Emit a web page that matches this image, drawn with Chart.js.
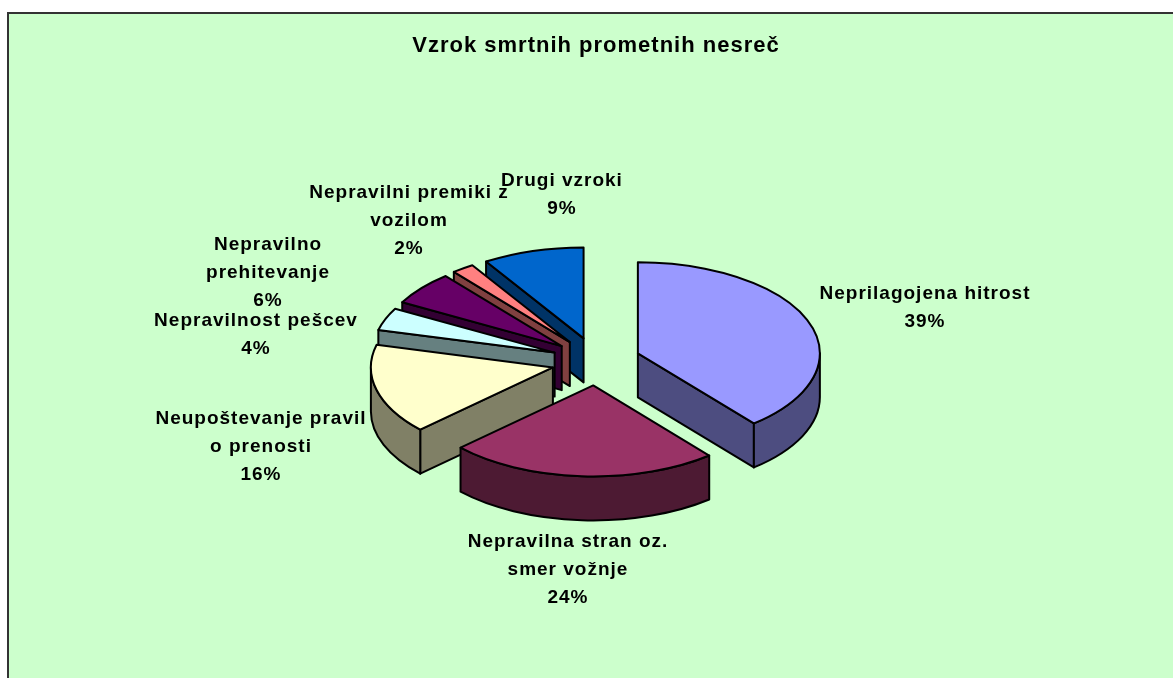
<!DOCTYPE html>
<html>
<head>
<meta charset="utf-8">
<style>html,body{margin:0;padding:0;background:#fff}canvas{display:block}</style>
<script src="https://cdn.jsdelivr.net/npm/chart.js@4"></script>
</head>
<body>
<canvas id="c" width="1173" height="678"></canvas>
<script>
const chartTitle = 'Vzrok smrtnih prometnih nesreč';
const categories = ['Neprilagojena hitrost','Nepravilna stran oz. smer vožnje','Neupoštevanje pravil o prenosti','Nepravilnost pešcev','Nepravilno prehitevanje','Nepravilni premiki z vozilom','Drugi vzroki'];
const values = [39,24,16,4,6,2,9];
const sliceColors = ['#9999FF','#993366','#FFFFCC','#CCFFFF','#660066','#FF8080','#0066CC'];
const wallColors = ['#4D4D80','#4D1A33','#808066','#668080','#330033','#804040','#003366'];
// words on the first line of each label (0 = no wrap)
const labelWrapWords = [0,3,2,0,1,3,0];

// presentation settings
const FONT = '"Liberation Sans", Arial, sans-serif';
const tilt = 0.5, explodeX = 44.5, explodeY = 24, depth = 44;
const labelAnchors = [[925,294],[568,542],[261,419],[256,321],[268,245],[409,193],[562,181]];
const labelLineHeight = 27.7;

const backdrop = {
  id:'backdrop',
  beforeDraw(chart){
    const c = chart.ctx;
    c.save();
    c.fillStyle='#FFFFFF'; c.fillRect(0,0,chart.width,chart.height);
    c.fillStyle='#CCFFCC'; c.fillRect(8,13,chart.width-8,chart.height-13);
    c.strokeStyle='#333333'; c.lineWidth=2;
    c.beginPath(); c.moveTo(8,chart.height); c.lineTo(8,13); c.lineTo(chart.width,13); c.stroke();
    c.restore();
    c.letterSpacing='1px';
  }
};

function pie3d(c, arc, i){
  const cx=arc.x, cy=arc.y, r=arc.outerRadius, ry=r*tilt;
  const a0=arc.startAngle, a1=arc.endAngle, mid=(a0+a1)/2;
  const ax=cx+explodeX*Math.cos(mid), ay=cy+explodeY*Math.sin(mid);
  const pt=a=>[ax+r*Math.cos(a), ay+ry*Math.sin(a)];
  const paint=()=>{c.fillStyle=wallColors[i]; c.fill(); c.stroke();};
  c.strokeStyle='#000'; c.lineWidth=2; c.lineJoin='round';
  const face=a=>{
    const p=pt(a);
    c.beginPath(); c.moveTo(ax,ay); c.lineTo(p[0],p[1]); c.lineTo(p[0],p[1]+depth); c.lineTo(ax,ay+depth); c.closePath(); paint();
  };
  if(Math.cos(a0)<-1e-6) face(a0);
  if(Math.cos(a1)>1e-6) face(a1);
  const s=Math.max(a0,0), e=Math.min(a1,Math.PI);
  if(e>s){
    c.beginPath(); c.ellipse(ax,ay,r,ry,0,s,e,false); c.ellipse(ax,ay+depth,r,ry,0,e,s,true); c.closePath(); paint();
  }
  c.save();
  c.translate(ax,ay); c.scale(1,tilt); c.translate(-cx,-cy);
  arc.draw(c);
  c.restore();
  c.beginPath(); c.moveTo(ax,ay); c.ellipse(ax,ay,r,ry,0,a0,a1,false); c.closePath(); c.stroke();
}

const pie3dPlugin = {
  id:'pie3d',
  beforeDatasetDraw(chart,args){
    const arcs=args.meta.data, c=chart.ctx;
    const order=arcs.map((a,i)=>i).sort((p,q)=>{
      const y=a=>Math.sin((a.startAngle+a.endAngle)/2);
      return y(arcs[p])-y(arcs[q]);
    });
    order.forEach(i=>pie3d(c,arcs[i],i));
    return false;
  }
};

const labelsPlugin = {
  id:'sliceLabels',
  afterDatasetsDraw(chart){
    const c=chart.ctx, total=values.reduce((s,v)=>s+v,0);
    c.save();
    c.fillStyle='#000'; c.font='bold 19px '+FONT; c.letterSpacing='1px'; c.textAlign='center'; c.textBaseline='middle';
    categories.forEach((name,i)=>{
      const w=name.split(' '), n=labelWrapWords[i];
      const lines=n?[w.slice(0,n).join(' '),w.slice(n).join(' ')]:[name];
      lines.push(Math.round(values[i]/total*100)+'%');
      lines.forEach((t,j)=>c.fillText(t,labelAnchors[i][0],labelAnchors[i][1]+j*labelLineHeight));
    });
    c.restore();
  }
};

new Chart(document.getElementById('c'),{
  type:'pie',
  data:{labels:categories,datasets:[{data:values,backgroundColor:sliceColors,borderWidth:0,hoverOffset:0}]},
  options:{
    responsive:false,animation:false,events:[],radius:182,
    layout:{padding:{left:19,top:28,bottom:19.5,right:0}},
    plugins:{
      legend:{display:false},tooltip:{enabled:false},
      title:{display:true,text:chartTitle,color:'#000',font:{family:FONT,size:22,weight:'bold',lineHeight:1.2},padding:5}
    }
  },
  plugins:[backdrop,pie3dPlugin,labelsPlugin]
});
</script>
</body>
</html>
